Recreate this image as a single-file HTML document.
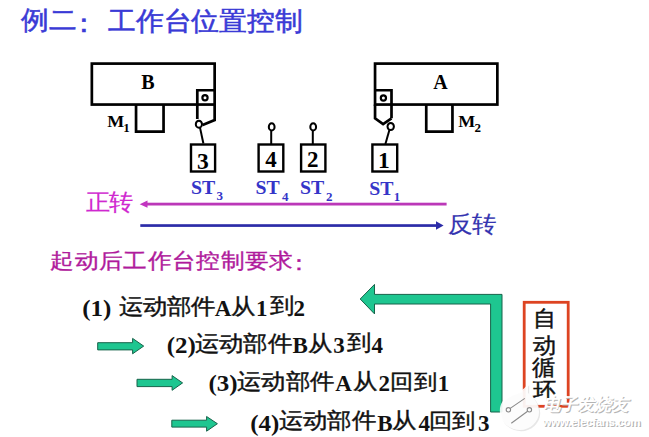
<!DOCTYPE html>
<html><head><meta charset="utf-8">
<style>
html,body{margin:0;padding:0;background:#fff;width:649px;height:437px;overflow:hidden}
svg{display:block}
.c{font-family:"Liberation Sans",sans-serif}
.s{font-family:"Liberation Serif",serif}
</style></head><body>
<svg width="649" height="437" viewBox="0 0 649 437">
<rect x="0" y="0" width="649" height="437" fill="#fff"/>
<g fill="none" stroke="#000" stroke-width="2.7">
  <rect x="91.85" y="63.6" width="122.8" height="40.95"/>
  <path d="M197.3 119 V90.25 H214.65"/>
  <path d="M214.65 104.5 V120 L202.6 125"/>
  <path d="M136.05 104.5 V131.55 H163.55 V104.5"/>
  <rect x="375.05" y="63.6" width="122.3" height="40.95"/>
  <path d="M375.05 90.25 H391.5 V118.3"/>
  <path d="M375.05 104.5 V118.3 L383.1 124 L391.5 118.3"/>
  <path d="M426.25 104.5 V131.55 H452.45 V104.5"/>
</g>
<g fill="none" stroke="#000" stroke-width="2.4">
  <rect x="191" y="144.5" width="24.1" height="27"/>
  <rect x="258.6" y="144.5" width="24.7" height="27"/>
  <rect x="301.1" y="144.5" width="24.3" height="27"/>
  <rect x="372.4" y="144.5" width="24.8" height="27"/>
</g>
<g fill="none" stroke="#000" stroke-width="2">
  <circle cx="205" cy="97.8" r="2.6" stroke-width="2.2"/>
  <circle cx="383.4" cy="98" r="2.6" stroke-width="2.2"/>
  <ellipse cx="198.9" cy="124.2" rx="3.1" ry="3.5"/>
  <path d="M200 127.6 L203.4 143.5"/>
  <ellipse cx="271.7" cy="126.9" rx="2.9" ry="3.6"/>
  <path d="M271.2 130.5 V144"/>
  <ellipse cx="313.2" cy="126.9" rx="2.9" ry="3.6"/>
  <path d="M312.8 130.5 V144"/>
  <ellipse cx="390.7" cy="126.5" rx="3.2" ry="3.6"/>
  <path d="M389.4 130 L385.4 144"/>
</g>
<rect x="146" y="202.7" width="300.6" height="2.8" fill="#bb38b8"/>
<path d="M139.7 204.2 L147.5 200.6 L147.5 207.8 Z" fill="#c234c0"/>
<rect x="140.3" y="224.2" width="297" height="2.7" fill="#2c2ca8"/>
<path d="M443.6 225.5 L436 221.3 L436 229.7 Z" fill="#2c2ca8"/>
<g fill="#1ec690" stroke="#17634a" stroke-width="1">
  <path d="M97.7 342.7 H132.6 V338.4 L143.7 346.1 L132.6 353.8 V349.9 H97.7 Z"/>
  <path d="M137 379.3 H172.1 V375.6 L182.6 382.9 L172.1 390.3 V386.6 H137 Z"/>
  <path d="M171.8 420.2 H206.6 V416.5 L217.4 423.7 L206.6 431.2 V427.1 H171.8 Z"/>
  <path d="M360.2 299 L374.5 284.4 V294.4 H502 V412 H490.6 V304 H374.5 V313.9 Z"/>
</g>
<rect x="524.2" y="302.3" width="44" height="104" fill="none" stroke="#dd4422" stroke-width="2.8"/>

<text class="c" stroke="#3a3ad6" stroke-width="0.6" font-size="28.0" fill="#3a3ad6" transform="translate(21.4 29.11) scale(1 0.94)">例二</text>
<text class="c" stroke="#3a3ad6" stroke-width="0.6" font-size="28.0" fill="#3a3ad6" transform="translate(70.05 32.18) scale(1 0.94)">：</text>
<text class="c" stroke="#3a3ad6" stroke-width="0.6" font-size="28.07" fill="#3a3ad6" transform="translate(107.9 29.55) scale(1 0.937)">工作台位置控制</text>
<text class="s" font-weight="bold" font-size="20.0" fill="#000" transform="translate(141.2 89.4)">B</text>
<text class="s" font-weight="bold" font-size="20.0" fill="#000" transform="translate(433.25 89.4)">A</text>
<text class="s" font-weight="bold" font-size="18.0" fill="#000" transform="translate(107.15 126.8) scale(1 0.92)">M</text>
<text class="s" font-weight="bold" font-size="13.0" fill="#000" transform="translate(123.25 131.5)">1</text>
<text class="s" font-weight="bold" font-size="18.0" fill="#000" transform="translate(458.15 126.8) scale(1 0.92)">M</text>
<text class="s" font-weight="bold" font-size="13.0" fill="#000" transform="translate(474.6 131.5)">2</text>
<text class="s" font-weight="bold" font-size="23.5" fill="#000" transform="translate(197.0 168.9)">3</text>
<text class="s" font-weight="bold" font-size="23.0" fill="#000" transform="translate(265.2 167.4)">4</text>
<text class="s" font-weight="bold" font-size="23.0" fill="#000" transform="translate(306.9 167.4)">2</text>
<text class="s" font-weight="bold" font-size="23.5" fill="#000" transform="translate(377.95 167.9)">1</text>
<text class="s" font-weight="bold" font-size="19.8" fill="#3535c8" transform="translate(190.95 193.7) scale(1 0.95)">ST</text>
<text class="s" font-weight="bold" font-size="13.0" fill="#3535c8" transform="translate(216.5 200.0)">3</text>
<text class="s" font-weight="bold" font-size="19.8" fill="#3535c8" transform="translate(255.5 194.4) scale(1 0.95)">ST</text>
<text class="s" font-weight="bold" font-size="13.0" fill="#3535c8" transform="translate(281.9 200.7)">4</text>
<text class="s" font-weight="bold" font-size="19.8" fill="#3535c8" transform="translate(299.9 194.4) scale(1 0.95)">ST</text>
<text class="s" font-weight="bold" font-size="13.0" fill="#3535c8" transform="translate(326.05 200.7)">2</text>
<text class="s" font-weight="bold" font-size="19.8" fill="#3535c8" transform="translate(369.25 195.0) scale(1 0.95)">ST</text>
<text class="s" font-weight="bold" font-size="13.0" fill="#3535c8" transform="translate(393.8 200.6)">1</text>
<text class="c" stroke="#d028d0" stroke-width="0.2" font-size="23.8" fill="#d028d0" transform="translate(85.5 209.85) scale(1 0.95)">正转</text>
<text class="c" stroke="#3434b0" stroke-width="0.2" font-size="24.21" fill="#3434b0" transform="translate(448.1 232.38) scale(1 0.939)">反转</text>
<text class="c" stroke="#b01a9c" stroke-width="0.4" font-size="24.01" fill="#b01a9c" transform="translate(50.2 268.34) scale(1 0.887)">起动后工作台控制要求</text>
<text class="c" stroke="#b01a9c" stroke-width="0.4" font-size="24.0" fill="#b01a9c" transform="translate(287.15 269.78) scale(1 0.88)">：</text>
<text class="c" stroke="#111" stroke-width="0.45" font-size="23.5" fill="#111" transform="translate(533.3 325.6) scale(1 0.95)">自</text>
<text class="c" stroke="#111" stroke-width="0.45" font-size="23.5" fill="#111" transform="translate(532.8 352.7) scale(1 0.95)">动</text>
<text class="c" stroke="#111" stroke-width="0.45" font-size="23.5" fill="#111" transform="translate(532.3 375.2) scale(1 0.95)">循</text>
<text class="c" stroke="#111" stroke-width="0.45" font-size="23.5" fill="#111" transform="translate(532.75 397.7) scale(1 0.95)">环</text>
<text class="s" font-weight="bold" font-size="25.0" fill="#111" transform="translate(82.15 316.07) scale(1 0.95)">(1)</text>
<text class="c" stroke="#111" stroke-width="0.45" font-size="24.25" fill="#111" transform="translate(118.5 314.3) scale(1 0.9)">运动部件</text>
<text class="s" font-weight="bold" font-size="23.0" fill="#111" transform="translate(214.8 316.0)">A</text>
<text class="c" stroke="#111" stroke-width="0.45" font-size="24.5" fill="#111" transform="translate(231.4 314.3) scale(1 0.9)">从</text>
<text class="s" font-weight="bold" font-size="23.0" fill="#111" transform="translate(256.1 316.0)">1</text>
<text class="c" stroke="#111" stroke-width="0.45" font-size="24.5" fill="#111" transform="translate(269.5 313.4) scale(1 0.9)">到</text>
<text class="s" font-weight="bold" font-size="23.0" fill="#111" transform="translate(293.55 316.0)">2</text>
<text class="s" font-weight="bold" font-size="25.0" fill="#111" transform="translate(166.75 352.78) scale(1 0.95)">(2)</text>
<text class="c" stroke="#111" stroke-width="0.45" font-size="24.61" fill="#111" transform="translate(195.0 351.3) scale(1 0.9)">运动部件</text>
<text class="s" font-weight="bold" font-size="23.0" fill="#111" transform="translate(292.55 353.1)">B</text>
<text class="c" stroke="#111" stroke-width="0.45" font-size="24.5" fill="#111" transform="translate(307.9 351.3) scale(1 0.9)">从</text>
<text class="s" font-weight="bold" font-size="23.0" fill="#111" transform="translate(333.3 353.1)">3</text>
<text class="c" stroke="#111" stroke-width="0.45" font-size="24.5" fill="#111" transform="translate(346.55 350.4) scale(1 0.9)">到</text>
<text class="s" font-weight="bold" font-size="23.0" fill="#111" transform="translate(371.55 353.1)">4</text>
<text class="s" font-weight="bold" font-size="25.0" fill="#111" transform="translate(208.5 391.12) scale(1 0.95)">(3)</text>
<text class="c" stroke="#111" stroke-width="0.45" font-size="24.61" fill="#111" transform="translate(237.3 388.7) scale(1 0.9)">运动部件</text>
<text class="s" font-weight="bold" font-size="23.0" fill="#111" transform="translate(335.15 391.3)">A</text>
<text class="c" stroke="#111" stroke-width="0.45" font-size="24.5" fill="#111" transform="translate(352.5 388.7) scale(1 0.9)">从</text>
<text class="s" font-weight="bold" font-size="23.0" fill="#111" transform="translate(378.45 391.3)">2</text>
<text class="c" stroke="#111" stroke-width="0.45" font-size="23.79" fill="#111" transform="translate(390.2 388.7) scale(1 0.9)">回到</text>
<text class="s" font-weight="bold" font-size="23.0" fill="#111" transform="translate(437.75 391.3)">1</text>
<text class="s" font-weight="bold" font-size="25.0" fill="#111" transform="translate(250.25 430.57) scale(1 0.95)">(4)</text>
<text class="c" stroke="#111" stroke-width="0.45" font-size="24.56" fill="#111" transform="translate(279.1 428.3) scale(1 0.9)">运动部件</text>
<text class="s" font-weight="bold" font-size="23.0" fill="#111" transform="translate(377.3 430.5)">B</text>
<text class="c" stroke="#111" stroke-width="0.45" font-size="24.5" fill="#111" transform="translate(392.2 428.3) scale(1 0.9)">从</text>
<text class="s" font-weight="bold" font-size="23.0" fill="#111" transform="translate(418.6 430.7)">4</text>
<text class="c" stroke="#111" stroke-width="0.45" font-size="23.36" fill="#111" transform="translate(429.3 428.3) scale(1 0.9)">回到</text>
<text class="s" font-weight="bold" font-size="23.0" fill="#111" transform="translate(478.05 430.7)">3</text>
<g>
  <path d="M528 384 C523 391 518 392 512 394 C503 398 499 405 500 413 C501 423 510 430 520 430 C530 430 539 422 539 412 C539 402 532 396 528 393 Z" fill="#d0d0d0" fill-opacity="0.5" transform="translate(1.2 1.2)"/>
  <path d="M528 384 C523 391 518 392 512 394 C503 398 499 405 500 413 C501 423 510 430 520 430 C530 430 539 422 539 412 C539 402 532 396 528 393 Z" fill="#fff" fill-opacity="0.88"/>
  <g fill="none" stroke="#8a8a8a" stroke-width="1.1">
    <circle cx="508.4" cy="409.8" r="2.2"/>
    <circle cx="529.4" cy="409.8" r="2.2"/>
    <path d="M510.2 408.4 L524.8 398.4 M527.6 411.3 L511.3 423.2"/>
  </g>
  <g class="c" font-style="italic" font-weight="bold">
  <text x="544" y="411" font-size="17.3" fill="#b4b4b4">电子发烧友</text>
  <text x="542.6" y="409.6" font-size="17.3" fill="#fff">电子发烧友</text>
  <text x="543.8" y="426.7" font-size="11.5" fill="#b4b4b4" textLength="98" font-style="normal">www.elecfans.com</text>
  <text x="542.6" y="425.5" font-size="11.5" fill="#fff" textLength="98" font-style="normal">www.elecfans.com</text>
  </g>
</g>

</svg>
</body></html>
